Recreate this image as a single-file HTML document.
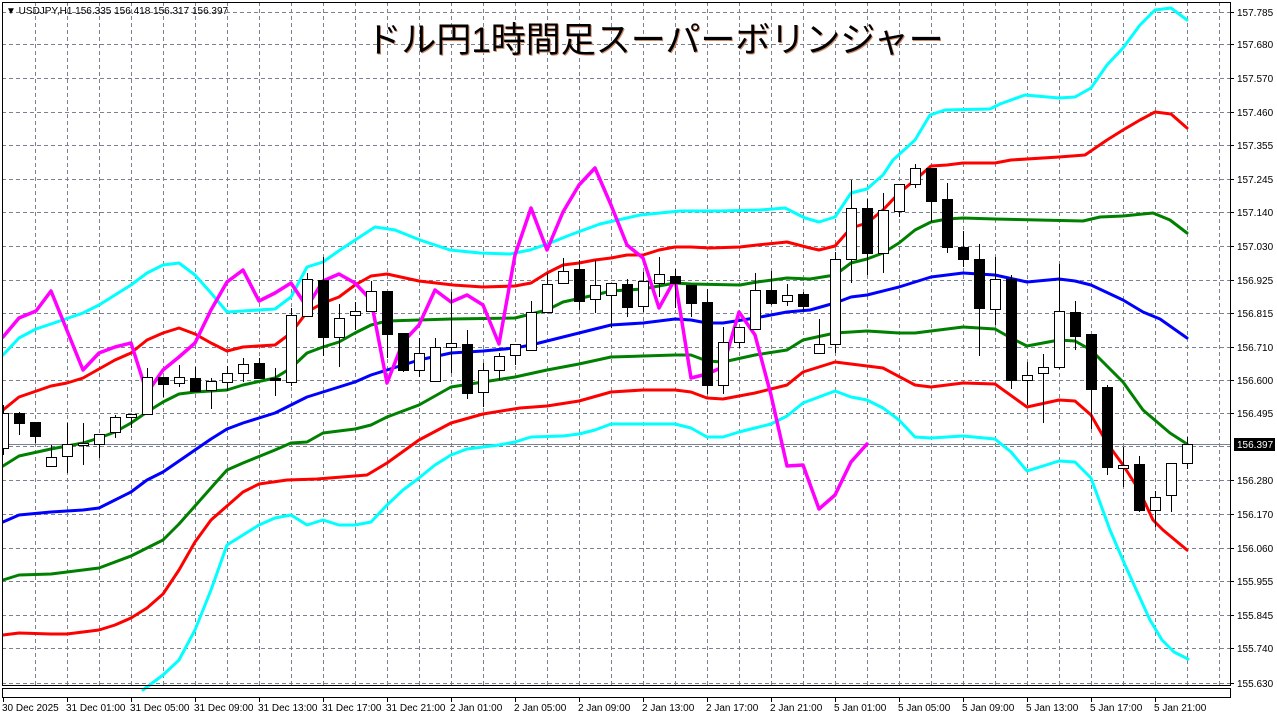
<!DOCTYPE html>
<html><head><meta charset="utf-8"><style>
html,body{margin:0;padding:0;background:#fff;width:1277px;height:718px;overflow:hidden}
svg{display:block}
text{font-family:"Liberation Sans","Noto Sans CJK JP",sans-serif}
</style></head><body>
<svg width="1277" height="718" viewBox="0 0 1277 718" xmlns="http://www.w3.org/2000/svg">
<rect width="1277" height="718" fill="#fff"/>
<g stroke="#7a8290" stroke-width="1" stroke-dasharray="4,3" fill="none">
<path d="M2 12.5H1230M2 44.5H1230M2 78.5H1230M2 112.5H1230M2 145.5H1230M2 179.5H1230M2 212.5H1230M2 246.5H1230M2 280.5H1230M2 313.5H1230M2 347.5H1230M2 380.5H1230M2 413.5H1230M2 446.5H1230M2 480.5H1230M2 514.5H1230M2 548.5H1230M2 581.5H1230M2 615.5H1230M2 648.5H1230M2 683.5H1230"/>
<path d="M35.5 2V686M67.5 2V686M99.5 2V686M131.5 2V686M163.5 2V686M195.5 2V686M227.5 2V686M259.5 2V686M291.5 2V686M323.5 2V686M355.5 2V686M387.5 2V686M419.5 2V686M451.5 2V686M483.5 2V686M515.5 2V686M547.5 2V686M579.5 2V686M611.5 2V686M643.5 2V686M675.5 2V686M707.5 2V686M739.5 2V686M771.5 2V686M803.5 2V686M835.5 2V686M867.5 2V686M899.5 2V686M931.5 2V686M963.5 2V686M995.5 2V686M1027.5 2V686M1059.5 2V686M1091.5 2V686M1123.5 2V686M1155.5 2V686M1187.5 2V686M1219.5 2V686"/>
</g>
<line x1="2" y1="444.5" x2="1230" y2="444.5" stroke="#7a8290" stroke-width="1"/>
<text x="655" y="52" font-size="35" text-anchor="middle" fill="#000" style="text-shadow:1px 1px 0 #c86">ドル円1時間足スーパーボリンジャー</text>
<text x="6" y="14" font-size="10" fill="#000">▼ USDJPY,H1  156.335 156.418 156.317 156.397</text>
<g fill="none" stroke-width="3" stroke-linejoin="round" stroke-linecap="round">
<polyline stroke="#00ffff" points="3,355 19,338 36,329 51,324 83,313 99,305 131,285 147,273 163,265 179,263 195,275 211,293 227,312 243,311 275,309 291,297 307,267 323,262 340,250 375,227 395,230 420,240 450,250 480,253 510,254 530,250 550,243 570,235 600,224 640,215 680,211 720,211 760,210 785,208 805,218 819,222 835,217 851,193 867,189 883,175 893,160 915,140 930,115 945,110 990,109 1000,104 1025,95 1059,98 1075,97 1091,88 1107,65 1123,48 1140,25 1155,10 1171,8 1187,20"/>
<polyline stroke="#ff0000" points="3,410 19,397 51,386 67,383 83,378 99,369 115,360 131,353 147,340 163,333 179,328 195,334 211,343 227,351 243,347 275,345 291,333 307,312 323,303 339,297 355,285 371,276 387,274 419,281 453,285 483,287 515,286 531,283 547,273 563,265 579,263 595,260 611,258 627,255 643,255 659,250 675,247 691,247 710,248 740,247 757,245 787,242 810,248 819,250 835,246 851,228 867,223 883,210 899,193 915,180 931,166 947,165 963,163 995,163 1011,160 1059,157 1085,155 1107,140 1123,130 1140,120 1155,112 1171,114 1187,128"/>
<polyline stroke="#008000" points="3,466 19,456 51,449 83,443 99,438 115,432 131,423 147,412 163,402 179,394 195,392 227,390 243,385 275,378 291,368 307,353 323,347 339,342 355,333 371,325 387,321 419,320 451,319 515,318 547,310 563,302 595,295 611,291 643,289 675,283 691,284 740,285 757,282 787,278 810,279 835,275 851,263 867,259 883,253 899,243 915,230 931,222 947,219 963,218 995,219 1083,221 1100,217 1123,216 1153,213 1170,220 1187,233"/>
<polyline stroke="#0000ff" points="3,522 19,515 51,512 83,510 99,508 115,500 131,492 147,480 163,472 179,461 195,450 211,439 227,429 243,423 275,413 291,405 307,397 323,392 355,382 371,375 387,370 419,360 451,353 483,351 515,348 531,345 563,337 595,329 611,325 643,323 675,319 691,320 707,323 723,323 755,318 787,312 810,310 835,303 851,297 867,295 899,287 931,277 963,273 995,275 1027,282 1059,279 1075,281 1091,285 1123,300 1143,312 1160,319 1187,338"/>
<polyline stroke="#008000" points="3,580 19,575 51,574 99,568 131,556 163,540 179,524 195,506 218,480 227,470 243,463 275,450 291,443 307,442 323,433 355,429 371,425 387,417 419,405 451,387 483,382 515,377 547,370 579,364 611,357 675,355 691,355 707,361 723,362 755,355 787,350 803,340 835,333 867,331 899,333 915,333 963,327 995,329 1011,338 1027,346 1059,340 1075,341 1091,350 1123,382 1143,410 1170,433 1187,444"/>
<polyline stroke="#ff0000" points="3,635 19,633 51,634 67,634 99,630 115,625 131,618 147,608 163,594 179,570 195,542 211,520 227,506 243,492 259,484 287,480 317,479 367,475 387,463 419,440 451,423 483,414 520,408 547,406 579,401 611,392 643,390 675,390 691,392 707,398 723,399 755,393 787,385 803,372 819,367 835,362 867,366 883,368 915,385 931,387 963,383 995,384 1027,407 1059,400 1075,401 1091,415 1107,443 1123,465 1139,490 1153,520 1163,530 1187,550"/>
<polyline stroke="#00ffff" points="143,690 163,675 179,660 195,630 211,590 227,545 243,535 259,525 275,518 291,515 307,525 323,520 339,525 355,525 371,522 387,505 403,490 419,478 435,465 451,455 467,449 483,447 499,445 515,442 531,437 563,436 579,434 595,430 611,424 643,424 675,424 691,428 707,437 723,437 739,432 755,428 771,424 787,416 803,403 819,397 835,391 851,397 867,400 883,408 899,420 915,437 931,438 963,436 995,439 1011,452 1027,471 1059,461 1075,462 1091,478 1110,530 1125,565 1140,598 1150,620 1162,640 1174,652 1188,659"/>
<polyline stroke="#ff00ff" stroke-width="3.5" points="3,337 19,318 36,311 51,291 83,370 99,353 115,347 131,343 147,393 163,370 179,357 195,343 211,310 227,282 243,270 259,301 275,293 291,283 307,307 323,281 339,274 355,283 371,300 387,383 403,342 419,325 435,290 451,302 467,295 483,305 499,344 515,255 531,208 547,250 563,212 579,185 595,168 611,205 627,245 643,258 659,308 675,279 691,378 707,374 723,367 739,312 755,335 771,395 787,466 803,465 819,509 835,495 851,462 867,444"/>
</g>
<g stroke="#000" stroke-width="1" shape-rendering="crispEdges">
<path d="M3.5 405V455M19.5 412V435M35.5 422V443M51.5 445V466M67.5 423V473M83.5 423V465M99.5 434V458M115.5 415V438M131.5 414V428M147.5 368V414M163.5 377V397M179.5 365V387M195.5 367V391M211.5 378V409M227.5 366V391M243.5 358V382M259.5 358V378M275.5 368V396M291.5 308V386M307.5 273V316M323.5 257V356M339.5 304V367M355.5 302V330M371.5 281V311M387.5 291V358M403.5 333V372M419.5 338V377M435.5 338V381M451.5 292V373M467.5 330V399M483.5 363V407M499.5 353V380M515.5 344V365M531.5 301V350M547.5 273V312M563.5 258V283M579.5 260V310M595.5 260V313M611.5 283V328M627.5 279V317M643.5 272V312M659.5 257V297M675.5 269V308M691.5 285V317M707.5 289V394M723.5 327V394M739.5 327V348M755.5 273V329M771.5 271V305M787.5 284V306M803.5 292V311M819.5 319V353M835.5 252V353M851.5 180V283M867.5 199V275M883.5 193V273M899.5 184V217M915.5 164V188M931.5 168V222M947.5 183V253M963.5 231V267M979.5 244V356M995.5 257V325M1011.5 275V389M1027.5 362V405M1043.5 354V423M1059.5 264V369M1075.5 301V350M1091.5 334V429M1107.5 385V475M1123.5 447V487M1139.5 456V512M1155.5 491V527M1171.5 463V512M1187.5 437V469"/>
<g fill="#fff">
<rect x="-1.5" y="413.5" width="10" height="35"/>
<rect x="46.5" y="457.5" width="10" height="9"/>
<rect x="62.5" y="444.5" width="10" height="12"/>
<rect x="78.5" y="443.5" width="10" height="2"/>
<rect x="94.5" y="434.5" width="10" height="10"/>
<rect x="110.5" y="417.5" width="10" height="15"/>
<rect x="126.5" y="414.5" width="10" height="3"/>
<rect x="142.5" y="377.5" width="10" height="37"/>
<rect x="174.5" y="377.5" width="10" height="6"/>
<rect x="206.5" y="381.5" width="10" height="9"/>
<rect x="222.5" y="373.5" width="10" height="9"/>
<rect x="238.5" y="364.5" width="10" height="9"/>
<rect x="286.5" y="315.5" width="10" height="67"/>
<rect x="302.5" y="279.5" width="10" height="37"/>
<rect x="334.5" y="318.5" width="10" height="19"/>
<rect x="350.5" y="311.5" width="10" height="4"/>
<rect x="366.5" y="291.5" width="10" height="20"/>
<rect x="414.5" y="353.5" width="10" height="17"/>
<rect x="430.5" y="347.5" width="10" height="34"/>
<rect x="446.5" y="343.5" width="10" height="4"/>
<rect x="478.5" y="370.5" width="10" height="22"/>
<rect x="494.5" y="356.5" width="10" height="14"/>
<rect x="510.5" y="344.5" width="10" height="11"/>
<rect x="526.5" y="312.5" width="10" height="38"/>
<rect x="542.5" y="284.5" width="10" height="28"/>
<rect x="558.5" y="271.5" width="10" height="12"/>
<rect x="590.5" y="285.5" width="10" height="14"/>
<rect x="606.5" y="283.5" width="10" height="12"/>
<rect x="638.5" y="281.5" width="10" height="25"/>
<rect x="654.5" y="274.5" width="10" height="9"/>
<rect x="718.5" y="342.5" width="10" height="43"/>
<rect x="734.5" y="327.5" width="10" height="15"/>
<rect x="750.5" y="290.5" width="10" height="39"/>
<rect x="782.5" y="295.5" width="10" height="6"/>
<rect x="814.5" y="344.5" width="10" height="9"/>
<rect x="830.5" y="259.5" width="10" height="85"/>
<rect x="846.5" y="208.5" width="10" height="51"/>
<rect x="878.5" y="210.5" width="10" height="43"/>
<rect x="894.5" y="184.5" width="10" height="27"/>
<rect x="910.5" y="168.5" width="10" height="16"/>
<rect x="990.5" y="279.5" width="10" height="30"/>
<rect x="1022.5" y="375.5" width="10" height="5"/>
<rect x="1038.5" y="367.5" width="10" height="6"/>
<rect x="1054.5" y="311.5" width="10" height="56"/>
<rect x="1118.5" y="465.5" width="10" height="3"/>
<rect x="1150.5" y="497.5" width="10" height="13"/>
<rect x="1166.5" y="463.5" width="10" height="32"/>
<rect x="1182.5" y="444.5" width="10" height="19"/>
</g>
<g fill="#000">
<rect x="14.5" y="413.5" width="10" height="10"/>
<rect x="30.5" y="422.5" width="10" height="14"/>
<rect x="158.5" y="377.5" width="10" height="7"/>
<rect x="190.5" y="378.5" width="10" height="13"/>
<rect x="254.5" y="363.5" width="10" height="15"/>
<rect x="270.5" y="378.5" width="10" height="2"/>
<rect x="318.5" y="280.5" width="10" height="57"/>
<rect x="382.5" y="291.5" width="10" height="43"/>
<rect x="398.5" y="333.5" width="10" height="37"/>
<rect x="462.5" y="344.5" width="10" height="49"/>
<rect x="574.5" y="269.5" width="10" height="32"/>
<rect x="622.5" y="284.5" width="10" height="23"/>
<rect x="670.5" y="276.5" width="10" height="7"/>
<rect x="686.5" y="285.5" width="10" height="18"/>
<rect x="702.5" y="302.5" width="10" height="83"/>
<rect x="766.5" y="290.5" width="10" height="13"/>
<rect x="798.5" y="294.5" width="10" height="12"/>
<rect x="862.5" y="208.5" width="10" height="45"/>
<rect x="926.5" y="168.5" width="10" height="33"/>
<rect x="942.5" y="199.5" width="10" height="48"/>
<rect x="958.5" y="247.5" width="10" height="12"/>
<rect x="974.5" y="259.5" width="10" height="49"/>
<rect x="1006.5" y="279.5" width="10" height="101"/>
<rect x="1070.5" y="312.5" width="10" height="24"/>
<rect x="1086.5" y="334.5" width="10" height="55"/>
<rect x="1102.5" y="387.5" width="10" height="80"/>
<rect x="1134.5" y="464.5" width="10" height="46"/>
</g>
</g>
<rect x="0" y="0" width="2" height="718" fill="#fff"/>
<g fill="none" stroke="#000" stroke-width="1" shape-rendering="crispEdges">
<rect x="2.5" y="2.5" width="1228" height="683"/>
<rect x="2.5" y="688.5" width="1228" height="9"/>
<path d="M3.5 698V702M67.5 698V702M131.5 698V702M195.5 698V702M259.5 698V702M323.5 698V702M387.5 698V702M451.5 698V702M515.5 698V702M579.5 698V702M643.5 698V702M707.5 698V702M771.5 698V702M835.5 698V702M899.5 698V702M963.5 698V702M1027.5 698V702M1091.5 698V702M1155.5 698V702"/>
<path d="M1230 12.5h4M1230 44.5h4M1230 78.5h4M1230 112.5h4M1230 145.5h4M1230 179.5h4M1230 212.5h4M1230 246.5h4M1230 280.5h4M1230 313.5h4M1230 347.5h4M1230 380.5h4M1230 413.5h4M1230 480.5h4M1230 514.5h4M1230 548.5h4M1230 581.5h4M1230 615.5h4M1230 648.5h4M1230 683.5h4"/>
</g>
<g font-size="10" fill="#000">
<text x="1237" y="16">157.785</text><text x="1237" y="48">157.680</text><text x="1237" y="82">157.570</text><text x="1237" y="116">157.460</text><text x="1237" y="149">157.355</text><text x="1237" y="183">157.245</text><text x="1237" y="216">157.140</text><text x="1237" y="250">157.030</text><text x="1237" y="284">156.925</text><text x="1237" y="317">156.815</text><text x="1237" y="351">156.710</text><text x="1237" y="384">156.600</text><text x="1237" y="417">156.495</text><text x="1237" y="484">156.280</text><text x="1237" y="518">156.170</text><text x="1237" y="552">156.060</text><text x="1237" y="585">155.955</text><text x="1237" y="619">155.845</text><text x="1237" y="652">155.740</text><text x="1237" y="687">155.630</text>
</g>
<rect x="1234" y="438" width="41" height="13" fill="#000"/>
<text x="1237" y="448" font-size="10" fill="#fff">156.397</text>
<g font-size="10" fill="#000">
<text x="2" y="711">30 Dec 2025</text><text x="66" y="711">31 Dec 01:00</text><text x="130" y="711">31 Dec 05:00</text><text x="194" y="711">31 Dec 09:00</text><text x="258" y="711">31 Dec 13:00</text><text x="322" y="711">31 Dec 17:00</text><text x="386" y="711">31 Dec 21:00</text><text x="450" y="711">2 Jan 01:00</text><text x="514" y="711">2 Jan 05:00</text><text x="578" y="711">2 Jan 09:00</text><text x="642" y="711">2 Jan 13:00</text><text x="706" y="711">2 Jan 17:00</text><text x="770" y="711">2 Jan 21:00</text><text x="834" y="711">5 Jan 01:00</text><text x="898" y="711">5 Jan 05:00</text><text x="962" y="711">5 Jan 09:00</text><text x="1026" y="711">5 Jan 13:00</text><text x="1090" y="711">5 Jan 17:00</text><text x="1154" y="711">5 Jan 21:00</text>
</g>
</svg>
</body></html>
